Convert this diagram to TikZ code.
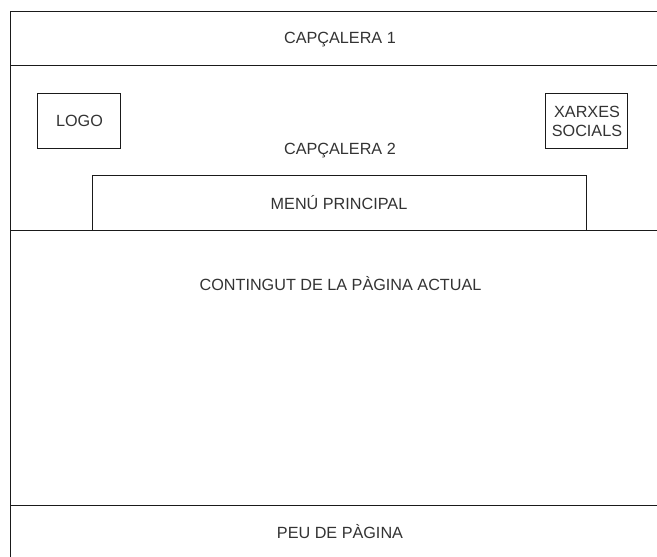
\documentclass[tikz,border=0pt]{standalone}
\usepackage{fontspec}
\setmainfont{Liberation Sans}
\definecolor{ink}{HTML}{1A1A1A}
\definecolor{txt}{HTML}{333333}
\tikzset{x=1pt,y=-1pt,
 boxa/.style={draw=ink,line width=1pt,inner sep=0pt},
 lab/.style={text=txt,font=\fontsize{16.2}{19}\selectfont,align=center,inner sep=0pt,anchor=base}}
\begin{document}
\begin{tikzpicture}
\useasboundingbox (0,0) rectangle (657,557);
\fill[white] (0,0) rectangle (657,557);
\begin{scope}
\clip (0,0) rectangle (657,557);
\node[boxa,minimum width=670pt,minimum height=54pt] (cap1) at (345,38) {};
\node[boxa,minimum width=670pt,minimum height=165pt] (cap2) at (345,147.5) {};
\node[boxa,minimum width=670pt,minimum height=275pt] (cont) at (345,367.5) {};
\node[boxa,minimum width=670pt,minimum height=60pt] (peu) at (345,535) {};
\end{scope}
\node[boxa,minimum width=83pt,minimum height=55pt] (logo) at (78.5,120.5) {};
\node[boxa,minimum width=82.5pt,minimum height=55pt] (xarxes) at (586.3,120.5) {};
\node[boxa,minimum width=494.5pt,minimum height=55pt] (menu) at (339.3,202.5) {};
\node[lab] (t1) at (340,43.5) {CAPÇALERA 1};
\node[lab] (t2) at (340,154.5) {CAPÇALERA 2};
\node[lab] (t5) at (79.5,126) {LOGO};
\node[lab,anchor=center] (t6) at (587,121) {XARXES\\SOCIALS};
\node[lab] (t7) at (339,209) {MENÚ PRINCIPAL};
\node[lab] (t3) at (340.5,290) {CONTINGUT DE LA PÀGINA ACTUAL};
\node[lab] (t4) at (340,538) {PEU DE PÀGINA};
\end{tikzpicture}
\end{document}
